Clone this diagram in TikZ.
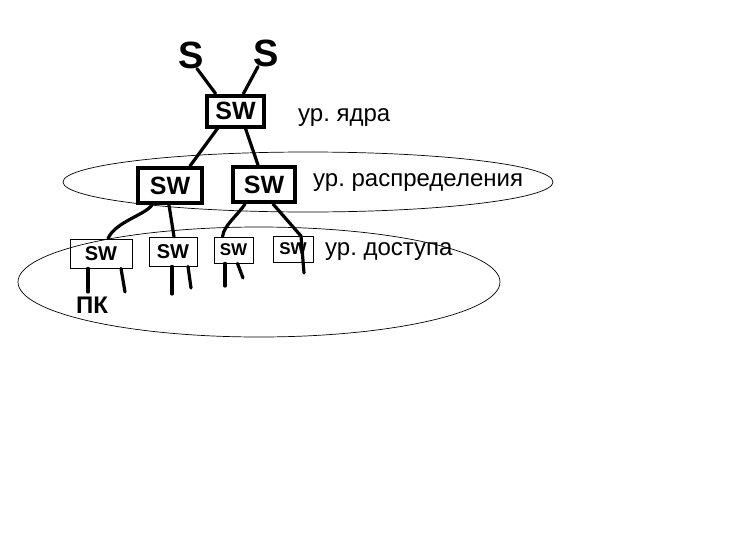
\documentclass[tikz,border=0pt]{standalone}
\usepackage{fontspec}
\setmainfont{Liberation Sans}
\frenchspacing
\begin{document}
\begin{tikzpicture}[x=1pt,y=-1pt,
  cable/.style={line width=3.2pt,line cap=round,line join=round},
  corebox/.style={draw,line width=4pt,inner sep=0pt},
  accbox/.style={draw,line width=0.8pt,inner sep=0pt},
  swtext/.style={font=\fontsize{25}{25}\selectfont\bfseries},
  swsmall/.style={font=\fontsize{20}{20}\selectfont\bfseries},
  swtiny/.style={font=\fontsize{17}{17}\selectfont\bfseries},
  lbl/.style={anchor=west,inner sep=0pt,font=\fontsize{24}{24}\selectfont},
  ring/.style={draw,line width=0.7pt}]
\useasboundingbox (0,0) rectangle (729,544);
% ellipses
\draw[ring] (308,182) ellipse [x radius=245, y radius=30];
\draw[ring] (259,282) ellipse [x radius=241, y radius=55];
% servers
\node[font=\fontsize{38}{38}\selectfont\bfseries,inner sep=0pt] (s1) at (191,55) {S};
\node[font=\fontsize{38}{38}\selectfont\bfseries,inner sep=0pt] (s2) at (266,53) {S};
% core
\node[corebox,minimum width=57pt,minimum height=31pt,swtext] (core) at (235.5,111) {SW};
% distribution
\node[corebox,minimum width=64pt,minimum height=35pt,swtext] (d1) at (170,185.5) {SW};
\node[corebox,minimum width=62pt,minimum height=35pt,swtext] (d2) at (264,184.5) {SW};
% access
\node[accbox,minimum width=62pt,minimum height=29pt,swsmall] (a1) at (101,253.5) {SW};
\node[accbox,minimum width=48pt,minimum height=29pt,swsmall] (a2) at (173,251.5) {SW};
\node[accbox,minimum width=39pt,minimum height=26pt,swtiny] (a3) at (233.5,250) {SW};
\node[accbox,minimum width=40pt,minimum height=26pt,swtiny] (a4) at (293,249) {SW};
% labels
\node[lbl] (l1) at (298,118) {ур. ядра};
\node[lbl] (l2) at (313,183) {ур. распределения};
\node[lbl] (l3) at (325,252) {ур. доступа};
\node[font=\fontsize{24}{24}\selectfont\bfseries,inner sep=0pt] (pk) at (92,305) {ПК};
% cables
\draw[cable] (s1.south) ++(6,0) -- ([xshift=-20pt]core.north);
\draw[cable] (s2.south) ++(-8,0) -- ([xshift=8pt]core.north);
\draw[cable] ([xshift=-18pt]core.south) -- ([xshift=20pt]d1.north);
\draw[cable] ([xshift=10pt]core.south) -- ([xshift=-6pt]d2.north);
\draw[cable] ([xshift=-18pt]d1.south) .. controls (145,215) and (115,222) .. ([xshift=7pt]a1.north);
\draw[cable] ([xshift=-1pt]d1.south) -- ([xshift=1pt]a2.north);
\draw[cable] ([xshift=-19pt]d2.south) .. controls (238,215) and (224,225) .. ([xshift=-11pt]a3.north);
\draw[cable] ([xshift=9pt]d2.south) -- (301,236) -- (304,273);
\coordinate (e1) at (88,292);
\coordinate (e2) at (125,292);
\coordinate (e3) at (172,294);
\coordinate (e4) at (191,288);
\coordinate (e5) at (225,286);
\coordinate (e6) at (243,278);
\draw[cable] (a1.south -| e1) -- (e1);
\draw[cable] ([xshift=20pt]a1.south) -- (e2);
\draw[cable] (a2.south -| e3) -- (e3);
\draw[cable] ([xshift=15pt]a2.south) -- (e4);
\draw[cable] (a3.south -| e5) -- (e5);
\draw[cable] ([xshift=4pt]a3.south) -- (e6);
\end{tikzpicture}
\end{document}
